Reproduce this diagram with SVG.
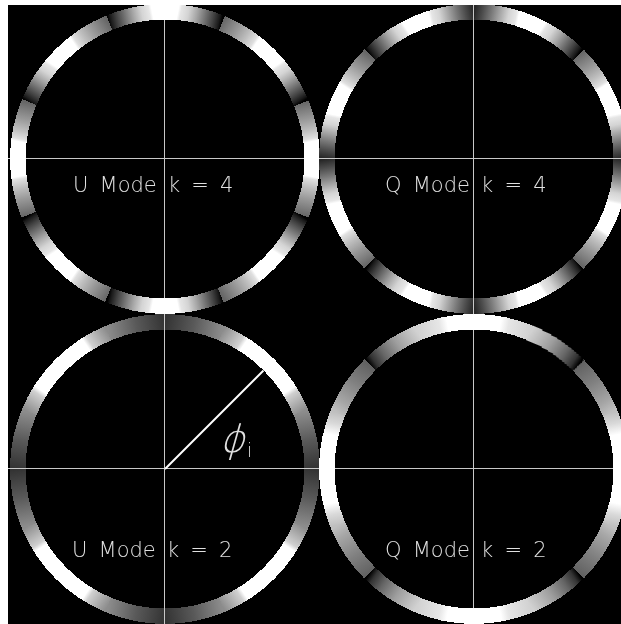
<svg xmlns="http://www.w3.org/2000/svg" xmlns:xlink="http://www.w3.org/1999/xlink" width="621" height="624" viewBox="0 0 621 624">
<style>
.ln{stroke:#c8c8c8;stroke-width:1;fill:none;mix-blend-mode:lighten}
.lab{font-family:"DejaVu Sans","Liberation Sans",sans-serif;font-weight:200;font-size:21px;word-spacing:4.5px;fill:#e0e0e0}
.ring{shape-rendering:crispEdges}
</style>
<defs>
<clipPath id="cv"><rect x="8" y="5" width="613" height="619"/></clipPath>
<path id="seg" d="M155,0.68 A155,155 0 0 0 142.94,-59.94 L128.65,-53.95 A139.5,139.5 0 0 1 139.5,0.61 Z"/>
<linearGradient id="gD4" gradientUnits="userSpaceOnUse" x1="147.25" y1="0" x2="136.04" y2="-56.35">
<stop offset="0" stop-color="#fff"/><stop offset=".22" stop-color="#fff"/><stop offset=".27" stop-color="#e6e6e6"/><stop offset=".4" stop-color="#d4d4d4"/><stop offset=".55" stop-color="#a6a6a6"/><stop offset=".7" stop-color="#737373"/><stop offset=".85" stop-color="#404040"/><stop offset=".95" stop-color="#1a1a1a"/><stop offset="1" stop-color="#000"/>
</linearGradient>
<linearGradient id="gM4" gradientUnits="userSpaceOnUse" x1="147.25" y1="0" x2="136.04" y2="-56.35">
<stop offset="0" stop-color="#fff"/><stop offset=".22" stop-color="#fff"/><stop offset=".27" stop-color="#e6e6e6"/><stop offset=".4" stop-color="#d4d4d4"/><stop offset=".55" stop-color="#a6a6a6"/><stop offset=".7" stop-color="#787878"/><stop offset=".85" stop-color="#4d4d4d"/><stop offset="1" stop-color="#262626"/>
</linearGradient>
<linearGradient id="gJ4" gradientUnits="userSpaceOnUse" x1="147.25" y1="0" x2="136.04" y2="-56.35">
<stop offset="0" stop-color="#fff"/><stop offset=".3" stop-color="#fff"/><stop offset=".35" stop-color="#e0e0e0"/><stop offset=".5" stop-color="#bfbfbf"/><stop offset=".7" stop-color="#999"/><stop offset=".85" stop-color="#808080"/><stop offset="1" stop-color="#666"/>
</linearGradient>
<linearGradient id="gMA2" gradientUnits="userSpaceOnUse" x1="147.25" y1="0" x2="136.04" y2="-56.35">
<stop offset="0" stop-color="#fff"/><stop offset=".56" stop-color="#fff"/><stop offset=".64" stop-color="#d0d0d0"/><stop offset="1" stop-color="#8c8c8c"/>
</linearGradient>
<linearGradient id="gMB2" gradientUnits="userSpaceOnUse" x1="147.25" y1="0" x2="136.04" y2="-56.35">
<stop offset="0" stop-color="#8c8c8c"/><stop offset=".5" stop-color="#595959"/><stop offset="1" stop-color="#333"/>
</linearGradient>
<linearGradient id="gDA2" gradientUnits="userSpaceOnUse" x1="147.25" y1="0" x2="136.04" y2="-56.35">
<stop offset="0" stop-color="#fff"/><stop offset=".46" stop-color="#fff"/><stop offset=".6" stop-color="#e6e6e6"/><stop offset="1" stop-color="#d1d1d1"/>
</linearGradient>
<linearGradient id="gDB2" gradientUnits="userSpaceOnUse" x1="147.25" y1="0" x2="136.04" y2="-56.35">
<stop offset="0" stop-color="#d1d1d1"/><stop offset=".4" stop-color="#9e9e9e"/><stop offset=".7" stop-color="#666"/><stop offset=".9" stop-color="#333"/><stop offset="1" stop-color="#000"/>
</linearGradient>
<linearGradient id="gJA2" gradientUnits="userSpaceOnUse" x1="147.25" y1="0" x2="136.04" y2="-56.35">
<stop offset="0" stop-color="#fff"/><stop offset=".6" stop-color="#fff"/><stop offset=".8" stop-color="#d9d9d9"/><stop offset="1" stop-color="#bfbfbf"/>
</linearGradient>
<linearGradient id="gJB2" gradientUnits="userSpaceOnUse" x1="147.25" y1="0" x2="136.04" y2="-56.35">
<stop offset="0" stop-color="#bfbfbf"/><stop offset=".2" stop-color="#a6a6a6"/><stop offset=".6" stop-color="#808080"/><stop offset="1" stop-color="#616161"/>
</linearGradient>
<g id="hD4"><use xlink:href="#seg" fill="url(#gD4)"/></g>
<g id="hM4"><use xlink:href="#seg" fill="url(#gM4)"/></g>
<g id="hJ4"><use xlink:href="#seg" fill="url(#gJ4)"/></g>
<g id="hM2"><use xlink:href="#seg" fill="url(#gMA2)"/><use xlink:href="#seg" fill="url(#gMB2)" transform="rotate(-22.5)"/></g>
<g id="hD2"><use xlink:href="#seg" fill="url(#gDA2)"/><use xlink:href="#seg" fill="url(#gDB2)" transform="rotate(-22.5)"/></g>
<g id="hJ2"><use xlink:href="#seg" fill="url(#gJA2)"/><use xlink:href="#seg" fill="url(#gJB2)" transform="rotate(-22.5)"/></g>
</defs>
<rect x="8" y="5" width="613" height="619" fill="#000"/>
<g clip-path="url(#cv)">
<g id="ring-u4" class="ring" transform="translate(165,159)">
<use xlink:href="#hJ4"/><use xlink:href="#hJ4" transform="scale(1,-1)"/>
<use xlink:href="#hJ4" transform="rotate(-45)"/><use xlink:href="#hD4" transform="rotate(-45) scale(1,-1)"/>
<use xlink:href="#hD4" transform="rotate(-90)"/><use xlink:href="#hD4" transform="rotate(-90) scale(1,-1)"/>
<use xlink:href="#hD4" transform="rotate(-135)"/><use xlink:href="#hJ4" transform="rotate(-135) scale(1,-1)"/>
<use xlink:href="#hJ4" transform="rotate(-180)"/><use xlink:href="#hJ4" transform="rotate(-180) scale(1,-1)"/>
<use xlink:href="#hJ4" transform="rotate(-225)"/><use xlink:href="#hD4" transform="rotate(-225) scale(1,-1)"/>
<use xlink:href="#hD4" transform="rotate(-270)"/><use xlink:href="#hD4" transform="rotate(-270) scale(1,-1)"/>
<use xlink:href="#hD4" transform="rotate(-315)"/><use xlink:href="#hJ4" transform="rotate(-315) scale(1,-1)"/>
</g>
<g id="ring-q4" class="ring" transform="translate(474,159)">
<use xlink:href="#hJ4" transform="rotate(-22.5)"/><use xlink:href="#hM4" transform="rotate(-22.5) scale(1,-1)"/>
<use xlink:href="#hM4" transform="rotate(-67.5)"/><use xlink:href="#hD4" transform="rotate(-67.5) scale(1,-1)"/>
<use xlink:href="#hD4" transform="rotate(-112.5)"/><use xlink:href="#hM4" transform="rotate(-112.5) scale(1,-1)"/>
<use xlink:href="#hM4" transform="rotate(-157.5)"/><use xlink:href="#hJ4" transform="rotate(-157.5) scale(1,-1)"/>
<use xlink:href="#hJ4" transform="rotate(-202.5)"/><use xlink:href="#hM4" transform="rotate(-202.5) scale(1,-1)"/>
<use xlink:href="#hM4" transform="rotate(-247.5)"/><use xlink:href="#hD4" transform="rotate(-247.5) scale(1,-1)"/>
<use xlink:href="#hD4" transform="rotate(-292.5)"/><use xlink:href="#hM4" transform="rotate(-292.5) scale(1,-1)"/>
<use xlink:href="#hM4" transform="rotate(-337.5)"/><use xlink:href="#hJ4" transform="rotate(-337.5) scale(1,-1)"/>
</g>
<g id="ring-u2" class="ring" transform="translate(165,469)">
<use xlink:href="#hM2" transform="rotate(-45)"/><use xlink:href="#hM2" transform="rotate(-45) scale(1,-1)"/>
<use xlink:href="#hM2" transform="rotate(-135)"/><use xlink:href="#hM2" transform="rotate(-135) scale(1,-1)"/>
<use xlink:href="#hM2" transform="rotate(-225)"/><use xlink:href="#hM2" transform="rotate(-225) scale(1,-1)"/>
<use xlink:href="#hM2" transform="rotate(-315)"/><use xlink:href="#hM2" transform="rotate(-315) scale(1,-1)"/>
</g>
<g id="ring-q2" class="ring" transform="translate(474,469)">
<use xlink:href="#hJ2"/><use xlink:href="#hJ2" transform="scale(1,-1)"/>
<use xlink:href="#hD2" transform="rotate(-90)"/><use xlink:href="#hD2" transform="rotate(-90) scale(1,-1)"/>
<use xlink:href="#hJ2" transform="rotate(-180)"/><use xlink:href="#hJ2" transform="rotate(-180) scale(1,-1)"/>
<use xlink:href="#hD2" transform="rotate(-270)"/><use xlink:href="#hD2" transform="rotate(-270) scale(1,-1)"/>
</g>
<g id="axes">
<path class="ln" d="M8,158.5H621M8,468.5H621M164.5,5V624M473.5,5V624"/>
</g>
</g>
<g id="phi-angle">
<path d="M165,469L263.5,370.5" stroke="#fff" stroke-width="2" fill="none"/>
<text transform="translate(232,452) skewX(-16)" x="0" y="0" font-family="DejaVu Sans, sans-serif" font-weight="200" font-size="38" fill="#e0e0e0" text-anchor="middle">ϕ</text>
<text x="247" y="457" font-family="DejaVu Sans, sans-serif" font-weight="200" font-size="19" fill="#e0e0e0">i</text>
</g>
<g id="label-u4"><text class="lab" x="73" y="192">U Mode k = 4</text></g>
<g id="label-q4"><text class="lab" x="385" y="192">Q Mode k = 4</text></g>
<g id="label-u2"><text class="lab" x="72" y="557">U Mode k = 2</text></g>
<g id="label-q2"><text class="lab" x="385" y="557">Q Mode k = 2</text></g>
</svg>
